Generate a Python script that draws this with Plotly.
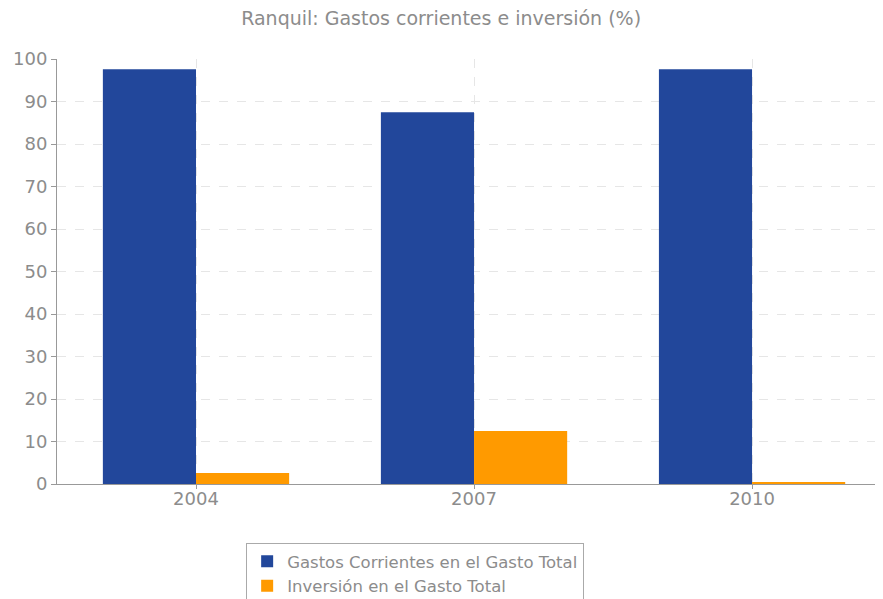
import plotly.graph_objects as go

years = ["2004", "2007", "2010"]
gastos_corrientes = [97.6, 87.5, 97.6]
inversion = [2.6, 12.5, 0.4]
series_names = ["Gastos Corrientes en el Gasto Total", "Inversión en el Gasto Total"]
y_ticks = [0, 10, 20, 30, 40, 50, 60, 70, 80, 90, 100]

fig = go.Figure()
fig.add_trace(go.Bar(x=years, y=gastos_corrientes, name=series_names[0],
                     marker=dict(color="#22479b", line=dict(width=0))))
fig.add_trace(go.Bar(x=years, y=inversion, name=series_names[1],
                     marker=dict(color="#ff9a00", line=dict(width=0))))

fig.update_layout(
    width=875, height=591,
    margin=dict(l=49, r=0, t=51, b=115, autoexpand=False),
    paper_bgcolor="white", plot_bgcolor="white",
    font=dict(family="DejaVu Sans", color="#8c8c8c", size=18),
    title=dict(text="Ranquil: Gastos corrientes e inversión (%)", x=0.495, xanchor="center",
               y=0.982, yanchor="middle", font=dict(size=19, color="#8c8c8c")),
    barmode="group", bargap=0.33, bargroupgap=0,
    showlegend=True,
    legend=dict(orientation="v", x=0.229, xanchor="left", y=-0.1388, yanchor="top",
                bordercolor="#aaaaaa", borderwidth=1, bgcolor="white",
                font=dict(size=16.5, color="#8c8c8c"), tracegroupgap=0,
                itemsizing="constant", entrywidth=330, entrywidthmode="pixels"),
    xaxis=dict(type="category", range=[-0.5, 2.471], showline=True, linecolor="#999999",
               linewidth=1, ticks="outside", ticklen=4, tickcolor="#999999",
               showgrid=True, gridcolor="#e6e6e6", griddash="dash", gridwidth=1,
               ticklabelstandoff=-6,
               tickfont=dict(size=18, color="#8c8c8c")),
    yaxis=dict(range=[0, 100], tickvals=y_ticks, showline=True, linecolor="#999999",
               linewidth=1, ticks="outside", ticklen=5, tickcolor="#999999",
               showgrid=True, gridcolor="#e6e6e6", griddash="dash", gridwidth=1,
               zeroline=False, tickfont=dict(size=18, color="#8c8c8c")),
)

fig.write_html("out.html")
